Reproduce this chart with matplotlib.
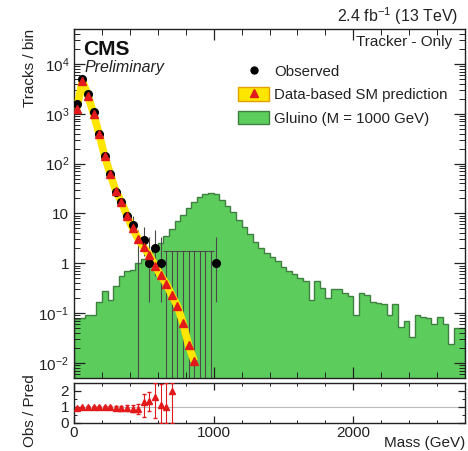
import numpy as np
import matplotlib
matplotlib.use('Agg')
import matplotlib.pyplot as plt
from matplotlib.patches import Patch
from matplotlib.lines import Line2D
from matplotlib.ticker import FixedLocator, MultipleLocator, LogLocator, FuncFormatter, NullFormatter

plt.rcParams['font.family'] = ['Liberation Sans', 'DejaVu Sans']
plt.rcParams['mathtext.default'] = 'regular'

''' ========== data read off the picture ========== '''
bin_edges = np.arange(0, 2801, 40)

# gluino M = 1000 GeV signal, one value per 40 GeV bin
gluino = [0.075, 0.08, 0.09, 0.09, 0.17, 0.28, 0.18, 0.35, 0.55, 0.7,
          0.75, 1.0, 1.2, 1.5, 2.0, 2.6, 3.6, 4.8, 7.0, 9.5,
          13, 17, 21, 25, 26, 24, 19, 14, 10.5, 7.5,
          5.3, 3.8, 2.7, 2.0, 1.6, 1.35, 1.1, 0.85, 0.7, 0.6,
          0.5, 0.45, 0.18, 0.45, 0.32, 0.2, 0.31, 0.3, 0.25, 0.22,
          0.09, 0.25, 0.23, 0.17, 0.16, 0.15, 0.09, 0.15, 0.052, 0.07,
          0.033, 0.09, 0.085, 0.08, 0.06, 0.085, 0.06, 0.024, 0.05, 0.05]

# observed tracks (nan = bin without visible marker)
obs_mass = [20, 60, 100, 140, 180, 220, 260, 300, 340, 380, 420, 460, 500, 540, 580, 620, 1020]
obs_val = [1560, 5000, 2450, 1060, 400, 140, 63, 27, 17, 9, 5.8, np.nan, 2.9, 1, 2, 1, 1]
obs_lo = [1520, 4930, 2400, 1020, 380, 128, 55, 22, 13, 6, 3.6, 0.005, 1.4, 0.17, 0.55, 0.17, 0.17]
obs_hi = [1600, 5070, 2500, 1100, 420, 152, 71, 33, 22, 12.5, 8.8, 4.6, 5.3, 3.3, 4.6, 3.3, 3.3]

# bins with zero observed tracks: only the upper error is drawn
zero_mass = [660, 700, 740, 780, 820, 860, 900, 940, 980]
zero_hi = [1.8, 1.8, 1.8, 1.8, 1.8, 1.8, 1.8, 1.8, 1.8]

# data-based SM prediction
pred_mass = [20, 60, 100, 140, 180, 220, 260, 300, 340, 380, 420,
             460, 500, 540, 580, 620, 660, 700, 740, 780, 820, 860]
pred_val = [1250, 4600, 2300, 1000, 390, 140, 62, 28, 17, 9, 5.0,
            3.1, 2.1, 1.45, 0.9, 0.57, 0.39, 0.23, 0.14, 0.064, 0.023, 0.011]

# ratio panel
ratio_mass = [20, 60, 100, 140, 180, 220, 260, 300, 340, 380, 420, 460,
              500, 540, 580, 620, 660, 700]
ratio_val = [0.95, 1.0, 1.02, 1.03, 1.02, 1.0, 0.98, 0.95, 0.92, 0.95, 0.9, 0.85,
             1.3, 1.35, 1.6, 1.15, 1.0, 2.0]
ratio_lo = [0.04, 0.03, 0.03, 0.04, 0.05, 0.07, 0.1, 0.12, 0.15, 0.18, 0.22, 0.3,
            0.9, 0.6, 1.3, 1.15, 1.0, 2.0]
ratio_hi = [0.04, 0.03, 0.03, 0.04, 0.05, 0.07, 0.1, 0.12, 0.15, 0.2, 0.25, 0.35,
            0.5, 0.6, 0.9, 1.3, 1.5, 0.5]

x_ticks = [0, 1000, 2000]
y_ticks = [1e-2, 1e-1, 1, 10, 1e2, 1e3, 1e4]

green = '#5ccc5c'
green_edge = '#3f7f3f'
red = '#e31a1c'
yellow = '#ffe600'
err_col = '#4a4a4a'


def log_label(v, pos):
    if v == 1:
        return '1'
    if v == 10:
        return '10'
    e = int(round(np.log10(v)))
    return r'$10^{%d}$' % e


def style_axis(ax):
    ax.tick_params(which='both', direction='in', top=True, right=True, labelsize=11, colors='#222222')
    ax.tick_params(which='major', length=8, width=0.9)
    ax.tick_params(which='minor', length=4, width=0.7)
    for s in ax.spines.values():
        s.set_linewidth(1.0)
        s.set_color('#222222')


fig = plt.figure(figsize=(4.68, 4.51), dpi=100)
ax = fig.add_axes([74 / 468, 1 - 378 / 451, 391 / 468, 349 / 451])
ax_r = fig.add_axes([74 / 468, 1 - 423 / 451, 391 / 468, 40 / 451])

''' main panel '''
ax.stairs(gluino, bin_edges, fill=True, color=green, zorder=1)
ax.stairs(gluino, bin_edges, color=green_edge, linewidth=1.0, zorder=1.5)

y_bottom = 5e-3
ax.vlines(obs_mass, obs_lo, obs_hi, color=err_col, linewidth=0.8, zorder=2)
ax.vlines(zero_mass, y_bottom, zero_hi, color=err_col, linewidth=0.8, zorder=2)
zero_left = np.array(zero_mass) - 20
zero_right = np.array(zero_mass) + 20
ax.hlines(zero_hi, zero_left, zero_right, color=err_col, linewidth=0.8, zorder=2)

ax.plot(pred_mass, pred_val, color=yellow, linewidth=5.5, solid_capstyle='butt', zorder=3)
ax.plot(obs_mass, obs_val, 'o', color='black', markersize=5.5, linestyle='none', zorder=4)
ax.plot(pred_mass, pred_val, '^', color=red, markersize=6, linestyle='none', zorder=5)

ax.set_yscale('log')
ax.set_xlim(0, 2800)
ax.set_ylim(y_bottom, 5e4)
ax.xaxis.set_major_locator(FixedLocator(x_ticks))
ax.xaxis.set_minor_locator(MultipleLocator(200))
ax.xaxis.set_major_formatter(NullFormatter())
ax.yaxis.set_major_locator(FixedLocator(y_ticks))
ax.yaxis.set_minor_locator(LogLocator(base=10, subs=np.arange(2, 10), numticks=20))
ax.yaxis.set_major_formatter(FuncFormatter(log_label))
ax.yaxis.set_minor_formatter(NullFormatter())
style_axis(ax)

ax.set_ylabel('Tracks / bin', fontsize=11, loc='top', color='#222222')
ax.yaxis.set_label_coords(-0.095, 1.0)

ax.text(0.023, 0.925, 'CMS', transform=ax.transAxes, fontsize=15, fontweight='bold',
        ha='left', va='baseline', color='#111111')
ax.text(0.028, 0.877, 'Preliminary', transform=ax.transAxes, fontsize=11.5, style='italic',
        ha='left', va='baseline', color='#222222')
ax.text(0.967, 0.963, 'Tracker - Only', transform=ax.transAxes, fontsize=11,
        ha='right', va='center', color='#222222')
fig.text(458 / 468, 1 - 22 / 451, r'2.4 fb$^{-1}$ (13 TeV)', fontsize=11.5,
         ha='right', va='baseline', color='#222222')

h_obs = Line2D([], [], marker='o', color='black', markersize=5, linestyle='none')
h_pred = (Patch(facecolor=yellow, edgecolor='#e0a000', linewidth=1.0),
          Line2D([], [], marker='^', color=red, markersize=6, linestyle='none'))
h_sig = Patch(facecolor=green, edgecolor=green_edge, linewidth=1.0)
leg = ax.legend([h_obs, h_pred, h_sig],
                ['Observed', 'Data-based SM prediction', 'Gluino (M = 1000 GeV)'],
                loc='upper left', bbox_to_anchor=(0.419, 0.90), frameon=False,
                fontsize=10.8, handlelength=2.1, handleheight=1.05, handletextpad=0.3,
                labelspacing=0.55, borderpad=0, borderaxespad=0)
for t in leg.get_texts():
    t.set_color('#222222')

''' ratio panel '''
ax_r.axhline(1, color='#bbbbbb', linewidth=0.8, zorder=1)
ax_r.errorbar(ratio_mass, ratio_val, yerr=[ratio_lo, ratio_hi], fmt='^', color=red,
              markersize=4.5, elinewidth=0.8, capsize=1.5, linestyle='none', zorder=3)
ax_r.set_xlim(0, 2800)
ax_r.set_ylim(0, 2.5)
ax_r.xaxis.set_major_locator(FixedLocator(x_ticks))
ax_r.xaxis.set_minor_locator(MultipleLocator(200))
ax_r.yaxis.set_major_locator(FixedLocator([0, 1, 2]))
ax_r.yaxis.set_minor_locator(MultipleLocator(0.5))
style_axis(ax_r)
ax_r.tick_params(which='major', length=5)
ax_r.tick_params(which='minor', length=2.5)
ax_r.tick_params(axis='x', pad=2)
ax_r.set_ylabel('Obs / Pred', fontsize=11, color='#222222')
ax_r.yaxis.set_label_coords(-0.095, 0.3)
ax_r.set_xlabel('Mass (GeV)', fontsize=11, loc='right', color='#222222')
ax_r.xaxis.set_label_coords(1.0, -0.33)

fig.savefig('out.png', dpi=100)
